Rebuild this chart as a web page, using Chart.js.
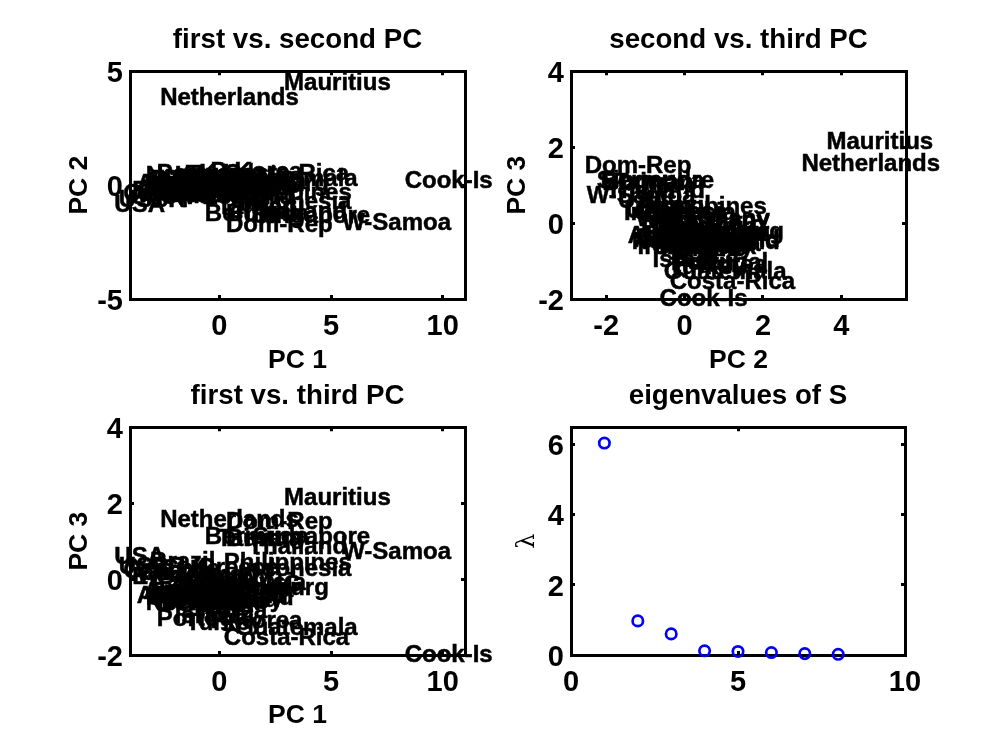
<!DOCTYPE html>
<html><head><meta charset="utf-8">
<style>
html,body{margin:0;padding:0;background:#fff;width:1000px;height:749px;overflow:hidden}
canvas{position:absolute}
</style>
<script src="https://cdn.jsdelivr.net/npm/chart.js@4"></script>
</head><body>
<canvas id="c1" width="500" height="378" style="left:0;top:0"></canvas>
<canvas id="c2" width="500" height="378" style="left:500px;top:0"></canvas>
<canvas id="c3" width="500" height="374" style="left:0;top:375px"></canvas>
<canvas id="c4" width="500" height="374" style="left:500px;top:375px"></canvas>
<script>
const countries = ["Argentina","Australia","Austria","Belgium","Bermuda","Brazil","Burma","Canada","Chile","China","Columbia","Cook-Is","Costa-Rica","Czech","Denmark","Dom-Rep","Finland","France","E-Germany","W-Germany","GB","Greece","Guatemala","Hungary","India","Indonesia","Ireland","Israel","Italy","Japan","Kenya","Korea","P-Korea","Luxemburg","Malaysia","Mauritius","Mexico","Netherlands","New-Zealand","Norway","Papua-NG","Philippines","Poland","Portugal","Romania","Singapore","Spain","Sweden","Switzerland","Taiwan","Thailand","Turkey","USA","USSR","W-Samoa"];
const pc1 = [-1.7,-3.7,-3.4,-3.0,-0.65,-3.1,0.3,-4.3,-2.6,-1.2,-1.9,8.3,0.2,-3.0,-2.8,0.3,-3.1,-2.3,-3.9,-3.7,-3.6,-1.0,0.7,-1.5,-0.8,0.9,-2.6,-2.0,-2.7,-2.4,-2.0,-0.9,-0.4,-0.95,-0.6,2.9,-1.4,-2.65,-3.3,-3.3,-1.5,0.2,-2.5,-2.8,-1.9,1.5,-2.4,-3.2,-2.9,-0.1,1.3,-1.5,-4.7,-4.5,5.5];
const pc2Upper = [0.15,0.1,0.2,0.25,-1.2,-0.1,-1.2,-0.3,-0.4,0.1,0.3,0.26,0.57,-0.2,0.1,-1.7,0.3,-0.2,-0.2,-0.35,-0.1,-0.1,0.35,0.1,0.3,-0.65,-0.3,0.08,-0.1,0.2,0.45,0.55,0.65,0.1,0.2,4.56,0.35,3.9,-0.45,0.45,0.05,-0.26,0.3,0.55,0.25,-1.3,-0.35,0.05,-0.07,-0.9,-1.1,0.5,-0.8,-0.6,-1.6];
const pc2Right = [-0.75,-1.3,-1.45,-0.65,-2.15,-1.0,-2.1,-1.2,-1.3,-0.8,-0.6,-0.64,-0.38,-1.1,-0.8,-2.55,-0.6,-1.1,-1.1,-1.25,-1.0,-1.0,-0.53,-0.8,-0.6,-1.55,-1.2,-0.82,-1.0,-0.7,-0.45,-0.35,-0.25,-0.8,-0.7,3.62,-0.55,2.98,-1.35,-0.45,-0.85,-1.17,-0.6,-0.35,-0.65,-2.24,-1.25,-0.85,-0.97,-1.8,-2.0,-0.4,-1.7,-1.5,-2.5];
const pc3 = [-0.25,-0.4,-0.3,-0.4,1.15,0.5,1.1,0.25,0.3,-0.1,-0.2,-1.97,-1.5,-0.05,-0.6,1.55,-0.3,-0.4,0.1,0.15,0.2,0.33,-1.24,-0.5,-0.3,0.3,-0.6,-0.92,-0.3,-0.2,-0.35,-0.8,-1.07,-0.2,-0.05,2.18,-0.55,1.6,-0.45,-0.6,-0.1,0.47,-0.65,-1.02,-0.5,1.15,-0.35,-0.45,-0.4,1.1,0.9,-1.12,0.63,0.35,0.75];
const eigIndex = [1,2,3,4,5,6,7,8];
const eigenvalues = [6.03,0.97,0.6,0.12,0.1,0.07,0.04,0.02];
const ticks1X = [0,5,10], ticks1Y = [-5,0,5];
const ticks2X = [-2,0,2,4], ticks3Y = [-2,0,2,4];
const ticks4X = [0,5,10], ticks4Y = [0,2,4,6];

const FONT = '"Liberation Sans", Arial, sans-serif';
const LABEL_SIZE = 24, TICK_SIZE = 29, TITLE_SIZE = 27.7, AXIS_SIZE = 26.5;

const labelPlugin = {
  id:'countryLabels',
  afterDatasetsDraw(chart){
    const ds = chart.data.datasets[0];
    if(!ds.names) return;
    const ctx = chart.ctx, meta = chart.getDatasetMeta(0);
    ctx.save();
    ctx.font = `bold ${LABEL_SIZE}px ${FONT}`;
    ctx.fillStyle = '#000'; ctx.strokeStyle='#000'; ctx.lineWidth=0.5; ctx.textAlign='left'; ctx.textBaseline='middle';
    meta.data.forEach((el,i)=>{ctx.fillText(ds.names[i], el.x, el.y+2); ctx.strokeText(ds.names[i], el.x, el.y+2);});
    ctx.restore();
  }
};

function panel(id, o){
  const W = 500, H = +document.getElementById(id).height;
  const leftW = o.leftW, botH = o.xAxisH;
  const tickCfg = (arr)=>({
    afterBuildTicks(s){ s.ticks = arr.map(v=>({value:v})); }
  });
  const axisGrid = {display:true, drawOnChartArea:false, drawTicks:true, tickLength:-4, color:'#000', lineWidth:3};
  const axisBorder = {display:true, color:'#000', width:3};
  const tickFont = {family:FONT, weight:'bold', size:TICK_SIZE};
  new Chart(document.getElementById(id),{
    type:'scatter',
    data:{datasets:[{
      data:o.points, names:o.names, showLine:false,
      pointRadius:o.names?0:5.2, pointBorderWidth:2.7, pointBorderColor:'#0000ff',
      pointBackgroundColor:'rgba(0,0,0,0)', clip:false
    }]},
    plugins:[labelPlugin],
    options:{
      responsive:false, animation:false, devicePixelRatio:1,
      layout:{padding:{left:o.l-leftW, right:W-o.r, top:o.t-o.titleGap, bottom:H-o.b-botH}},
      plugins:{
        legend:{display:false}, tooltip:{enabled:false},
        title:{display:true, text:o.title, fullSize:false, color:'#000',
          font:{family:FONT,weight:'bold',size:TITLE_SIZE}, padding:{top:3,bottom:o.titleGap-36}}
      },
      scales:{
        x:{type:'linear',position:'bottom',min:o.xr[0],max:o.xr[1],
          grid:axisGrid,border:axisBorder,
          ticks:{color:'#000',font:tickFont,padding:15,maxRotation:0,autoSkip:false,callback:v=>v},
          title:{display:!!o.xlabel,text:o.xlabel,color:'#000',font:{family:FONT,weight:'bold',size:AXIS_SIZE},padding:{top:0,bottom:0}},
          ...tickCfg(o.xt), afterFit(s){s.height=botH;}},
        y:{type:'linear',position:'left',min:o.yr[0],max:o.yr[1],
          grid:axisGrid,border:axisBorder,
          ticks:{color:'#000',font:tickFont,padding:11,labelOffset:3,autoSkip:false,callback:v=>v},
          title:{display:true,text:o.ylabel,color:'#000',font:o.yfont||{family:FONT,weight:'bold',size:AXIS_SIZE},padding:{top:0,bottom:0}},
          ...tickCfg(o.yt), afterFit(s){s.width=leftW;}},
        xTop:{type:'linear',position:'top',min:o.xr[0],max:o.xr[1],
          grid:axisGrid,border:axisBorder,ticks:{display:false},
          ...tickCfg(o.xt), afterFit(s){s.height=0;}},
        yRight:{type:'linear',position:'right',min:o.yr[0],max:o.yr[1],
          grid:axisGrid,border:axisBorder,ticks:{display:false},
          ...tickCfg(o.yt), afterFit(s){s.width=0;}}
      }
    }
  });
}
const zip=(a,b)=>a.map((v,i)=>({x:v,y:b[i]}));
const x13=[-4,11], x2=[-2.9,5.65];
panel('c1',{l:130,r:465,t:71,b:299,leftW:66,xAxisH:78,titleGap:50,title:'first vs. second PC',xlabel:'PC 1',ylabel:'PC 2',xr:x13,yr:[-5,5],xt:ticks1X,yt:ticks1Y,points:zip(pc1,pc2Upper),names:countries});
panel('c2',{l:71,r:406,t:71,b:299,leftW:69,xAxisH:78,titleGap:50,title:'second vs. third PC',xlabel:'PC 2',ylabel:'PC 3',xr:x2,yr:[-2,4],xt:ticks2X,yt:ticks3Y,points:zip(pc2Right,pc3),names:countries});
panel('c3',{l:130,r:465,t:52,b:280,leftW:66,xAxisH:77,titleGap:50,title:'first vs. third PC',xlabel:'PC 1',ylabel:'PC 3',xr:x13,yr:[-2,4],xt:ticks1X,yt:ticks3Y,points:zip(pc1,pc3),names:countries});
panel('c4',{l:71,r:405,t:52,b:280,leftW:58,xAxisH:77,titleGap:50,title:'eigenvalues of S',xlabel:'',ylabel:'λ',yfont:{family:'"DejaVu Serif"',size:24},xr:[0,10],yr:[0,6.48],xt:ticks4X,yt:ticks4Y,points:zip(eigIndex,eigenvalues),names:null});
</script>
</body></html>
